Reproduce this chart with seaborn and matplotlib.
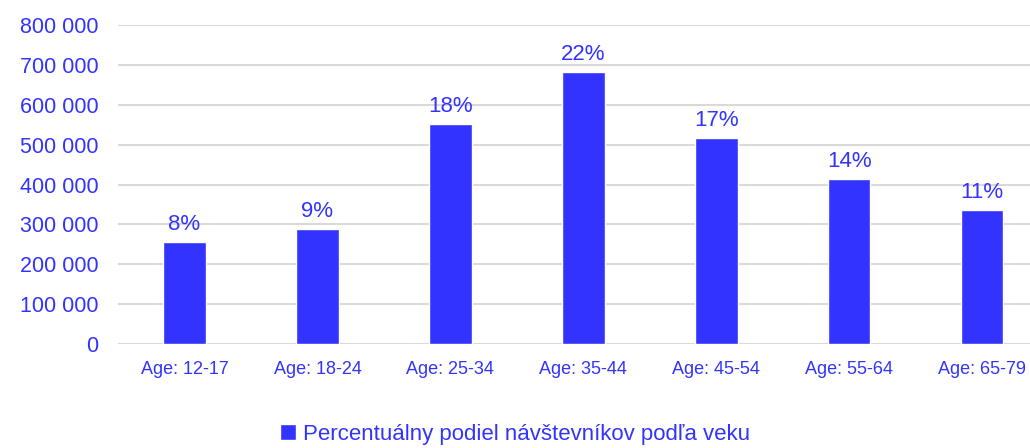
import matplotlib.pyplot as plt
import matplotlib.ticker as mticker
import seaborn as sns
import pandas as pd

categories = ['Age: 12-17', 'Age: 18-24', 'Age: 25-34', 'Age: 35-44',
              'Age: 45-54', 'Age: 55-64', 'Age: 65-79']
visitors = [256000, 288000, 551000, 683000, 516000, 413000, 337000]
pct_labels = ['8%', '9%', '18%', '22%', '17%', '14%', '11%']
legend_label = 'Percentuálny podiel návštevníkov podľa veku'

blue = '#3333FF'

sns.set_style('white')
plt.rcParams['font.family'] = ['Liberation Sans', 'DejaVu Sans']

df = pd.DataFrame({'age': categories, 'visitors': visitors})

fig = plt.figure(figsize=(10.3, 4.48), dpi=100)
ax = fig.add_axes([0.1146, 0.232, 0.8854, 0.712])

ax.yaxis.grid(True, color='#d9d9d9', linewidth=1.5)
ax.set_axisbelow(True)

sns.barplot(data=df, x='age', y='visitors', color=blue, width=0.32,
            saturation=1, ax=ax, label=legend_label)

for i, (v, t) in enumerate(zip(visitors, pct_labels)):
    ax.annotate(t, (i, v), xytext=(0, 5), textcoords='offset points',
                ha='center', va='bottom', color=blue, fontsize=16)

ax.set_ylim(0, 800000)
ax.set_xlim(-0.5, 6.36)
ax.yaxis.set_major_locator(mticker.MultipleLocator(100000))
ax.yaxis.set_major_formatter(
    mticker.FuncFormatter(lambda v, p: f'{int(v):,}'.replace(',', ' ')))

ax.set_xlabel('')
ax.set_ylabel('')
ax.tick_params(axis='y', colors=blue, labelsize=15.5, length=0, pad=14)
ax.tick_params(axis='x', colors=blue, labelsize=13, length=0, pad=12)
sns.despine(ax=ax, left=True, bottom=True, top=True, right=True)

leg = fig.legend(loc='lower center', bbox_to_anchor=(0.5, -0.038), frameon=False,
                 fontsize=16, handlelength=0.7, handleheight=0.7, handletextpad=0.3)
for t in leg.get_texts():
    t.set_color(blue)
if ax.get_legend():
    ax.get_legend().remove()

fig.savefig('out.png', dpi=100)
